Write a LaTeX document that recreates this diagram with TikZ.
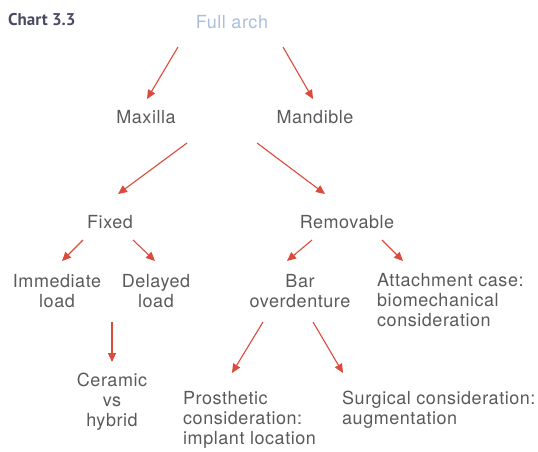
\documentclass[tikz,border=0pt]{standalone}
\usepackage{fontspec}
\setmainfont[LetterSpace=3]{TeX Gyre Heros}
\newfontfamily\titlefont{PT Sans}
\usetikzlibrary{arrows.meta}
\definecolor{txt}{HTML}{5A5A5A}
\definecolor{arr}{HTML}{DC4A3C}
\definecolor{ttl}{HTML}{4B4A63}
\definecolor{top}{HTML}{A9BEDD}
\tikzset{
  lbl/.style={inner sep=0pt, text=txt, font=\fontsize{18}{20}\selectfont, align=center},
  lbll/.style={lbl, align=left, anchor=north west},
  conn/.style={draw=arr, line width=1.1pt, -{Triangle[length=9pt,width=8pt]}},
}
\begin{document}
\begin{tikzpicture}[x=1pt,y=-1pt]
\useasboundingbox (0,0) rectangle (538,452);
\node[inner sep=0pt, anchor=west, text=ttl, font=\titlefont\bfseries\fontsize{17}{20}\selectfont] (title) at (8,20) {Chart 3.3};
\node[lbl, text=top] (full) at (232,22) {Full arch};
\node[lbl] (max) at (146,117) {Maxilla};
\node[lbl] (man) at (315,117) {Mandible};
\node[lbl] (fix) at (110,222) {Fixed};
\node[lbl] (rem) at (347,222) {Removable};
\node[lbl] (imm) at (57,291) {Immediate\\load};
\node[lbl] (del) at (156,291) {Delayed\\load};
\node[lbl] (bar) at (300,291) {Bar\\overdenture};
\node[lbll] (att) at (377,273) {Attachment case:\\biomechanical\\consideration};
\node[lbl] (cer) at (112,402) {Ceramic\\vs\\hybrid};
\node[lbll] (pro) at (183,391) {Prosthetic\\consideration:\\implant location};
\node[lbll] (sur) at (342,391) {Surgical consideration:\\augmentation};
% connector end points
\coordinate (a1s) at (178,47);  \coordinate (a1e) at (147,99);
\coordinate (a2s) at (283,47);  \coordinate (a2e) at (313,99);
\coordinate (a3s) at (187,143); \coordinate (a3e) at (118,194);
\coordinate (a4s) at (257,143); \coordinate (a4e) at (325,194);
\coordinate (a5s) at (83,240);  \coordinate (a5e) at (62,261);
\coordinate (a6s) at (133,240); \coordinate (a6e) at (155,261);
\coordinate (a7s) at (312,240); \coordinate (a7e) at (287,261);
\coordinate (a8s) at (382,240); \coordinate (a8e) at (403,261);
\coordinate (a9s) at (112,322); \coordinate (a9e) at (112,362);
\coordinate (a10s) at (263,322); \coordinate (a10e) at (232,373);
\coordinate (a11s) at (313,322); \coordinate (a11e) at (343,373);
\draw[conn] (a1s) -- (a1e);
\draw[conn] (a2s) -- (a2e);
\draw[conn] (a3s) -- (a3e);
\draw[conn] (a4s) -- (a4e);
\draw[conn] (a5s) -- (a5e);
\draw[conn] (a6s) -- (a6e);
\draw[conn] (a7s) -- (a7e);
\draw[conn] (a8s) -- (a8e);
\draw[conn] (a9s) -- (a9e);
\draw[conn] (a10s) -- (a10e);
\draw[conn] (a11s) -- (a11e);
\end{tikzpicture}
\end{document}
